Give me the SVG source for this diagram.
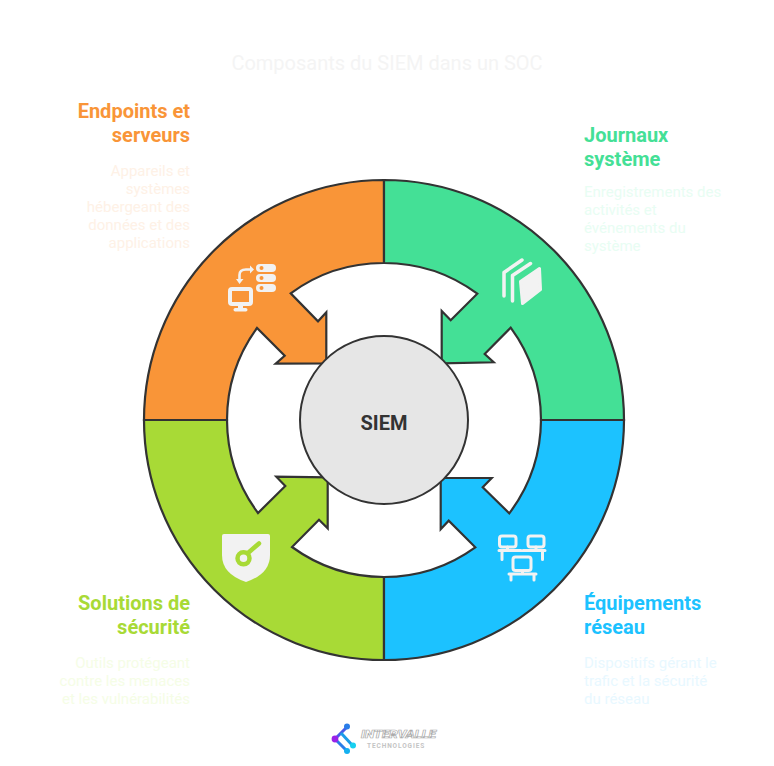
<svg xmlns="http://www.w3.org/2000/svg" width="774" height="766" viewBox="0 0 774 766">
<style>
text{font-family:Roboto,"Liberation Sans",sans-serif}
.seg{stroke:#333;stroke-width:2.2;stroke-linejoin:miter}
.h{font-size:20px;font-weight:700}
.d{font-size:15px}
.r{text-anchor:end}
.i{fill:#f2f2f2}
.il{fill:none;stroke:#f2f2f2;stroke-linecap:round;stroke-linejoin:round}
</style>
<rect width="774" height="766" fill="#fff"/>
<text id="title" x="387" y="70" font-size="20" fill="#f4f4f4" text-anchor="middle">Composants du SIEM dans un SOC</text>
<g id="connectors">
<path id="seg-endpoints" class="seg" fill="#f99538" d="M384 180A240 240 0 0 0 144 420H227A157 157 0 0 1 257 328L284.7 355.7L275.7 363.7L326.3 363.3V312.3L318 321.3L290.7 293.3A157 157 0 0 1 384 263Z"/>
<path id="seg-journaux" class="seg" fill="#44e096" d="M384 180A240 240 0 0 1 624 420H541A157 157 0 0 0 510.7 327.7L484.7 354L493.7 362.3L441.7 363.3V311L450.7 320.3L477.3 293.7A157 157 0 0 0 384 263Z"/>
<path id="seg-solutions" class="seg" fill="#a8da36" d="M144 420A240 240 0 0 0 384 660V577A157 157 0 0 1 292 547L319 519.7L327.7 528.3V477.3L276.3 476.7L285.3 486L258 513A157 157 0 0 1 227 420Z"/>
<path id="seg-equipements" class="seg" fill="#1cc2ff" d="M624 420A240 240 0 0 1 384 660V577A157 157 0 0 0 475.3 547.3L448.7 520.7L440.7 529.3V478H491.7L482.7 487.3L509.3 513.3A157 157 0 0 0 541 420Z"/>
</g>
<g id="node-siem">
<circle cx="384" cy="420" r="84" fill="#e6e6e6" stroke="#333" stroke-width="2"/>
<text x="384" y="430" font-size="20" font-weight="700" fill="#333" text-anchor="middle">SIEM</text>
</g>
<g id="node-endpoints">
<text class="h r" x="190" y="118" fill="#f99538">Endpoints et</text>
<text class="h r" x="190" y="142" fill="#f99538">serveurs</text>
<g class="d r" fill="#fef1e6">
<text x="190" y="176">Appareils et</text><text x="190" y="194">systèmes</text><text x="190" y="212">hébergeant des</text><text x="190" y="230">données et des</text><text x="190" y="248">applications</text>
</g>
<rect class="il" x="230" y="289" width="21" height="15" rx="2" stroke-width="4" fill="none"/>
<rect class="i" x="238" y="305" width="5" height="4"/>
<rect class="i" x="233.500" y="308" width="14" height="3.500" rx="1.700"/>
<path class="il" stroke-width="2.600" d="M239.500 279V275Q239.500 269.500 246 269.500H251"/>
<path class="i" d="M236 279H243.500L239.500 284ZM250 265.500L254 269.500L250 273.500Z"/>
<g id="srv"><rect class="i" x="256" y="264" width="20" height="8" rx="4"/><rect class="i" x="256" y="274" width="20" height="8" rx="4"/><rect class="i" x="256" y="284" width="20" height="8" rx="4"/>
<circle cx="261.500" cy="268" r="2" fill="#f99538"/><circle cx="261.500" cy="278" r="2" fill="#f99538"/><circle cx="261.500" cy="288" r="2" fill="#f99538"/></g>
</g>
<g id="node-journaux">
<text class="h" x="584" y="142" fill="#44e096">Journaux</text>
<text class="h" x="584" y="166" fill="#44e096">système</text>
<g class="d" fill="#e8fdf3">
<text x="584" y="197">Enregistrements des</text><text x="584" y="215">activités et</text><text x="584" y="233">événements du</text><text x="584" y="251">système</text>
</g>
<path class="i" d="M520.500 281.500L539.500 268.500L540.500 289.500L522.500 303.500Z" stroke="#f2f2f2" stroke-width="3" stroke-linejoin="round"/>
<path class="il" stroke-width="3.500" d="M504 296V272.500L522 260M512.500 301V275.500L530.500 263.500"/>
</g>
<g id="node-solutions">
<text class="h r" x="190" y="610" fill="#a8da36">Solutions de</text>
<text class="h r" x="190" y="634" fill="#a8da36">sécurité</text>
<g class="d r" fill="#f5fde6">
<text x="190" y="668">Outils protégeant</text><text x="190" y="686">contre les menaces</text><text x="190" y="704">et les vulnérabilités</text>
</g>
<path class="i" d="M224 534H268Q270 534 270 536V555Q270 574 246 582Q222 574 222 555V536Q222 534 224 534Z"/>
<circle cx="243.500" cy="558.300" r="6" fill="none" stroke="#a8da36" stroke-width="4.500"/>
<path d="M248 553L259 543.500" stroke="#a8da36" stroke-width="4.500" stroke-linecap="round"/>
</g>
<g id="node-equipements">
<text class="h" x="584" y="610" fill="#1cc2ff">Équipements</text>
<text class="h" x="584" y="634" fill="#1cc2ff">réseau</text>
<g class="d" fill="#e8f8ff">
<text x="584" y="668">Dispositifs gérant le</text><text x="584" y="686">trafic et la sécurité</text><text x="584" y="704">du réseau</text>
</g>
<g class="il" stroke-width="3">
<rect x="499.500" y="536" width="16.500" height="11" rx="2.500"/><rect x="528" y="536" width="16" height="11" rx="2.500"/><rect x="513" y="557" width="18" height="13.500" rx="2.500"/>
<path d="M499 550.500H521M523 550.500H545M507.500 547V550.500M536 547V550.500M502 550.500V559.500M542.500 550.500V559.500M509 574H536M522.500 570.500V574M511 574V580M534 574V580"/>
</g>
</g>
<g id="logo">
<g fill="none" stroke-width="3">
<path d="M347 727L335 739" stroke="#4a5ae8"/>
<path d="M335 739L347 751" stroke="#2a7de8"/>
<path d="M341 733L353 746" stroke="#1c9de8"/>
</g>
<circle cx="347" cy="726.500" r="3" fill="#2a7de8"/>
<circle cx="335" cy="739" r="3.400" fill="#9a22e8"/>
<circle cx="347" cy="751" r="3" fill="#15b0f0"/>
<circle cx="353" cy="745.500" r="3" fill="#18d0f0"/>
<text x="361" y="738" font-size="10.500" font-weight="900" font-style="italic" fill="#fff" stroke="#aaa" stroke-width=".6" textLength="75" lengthAdjust="spacingAndGlyphs">INTERVALLE</text>
<text x="367" y="748" font-size="6.500" font-weight="700" fill="#c4c4c4" letter-spacing=".9">TECHNOLOGIES</text>
</g>
</svg>
